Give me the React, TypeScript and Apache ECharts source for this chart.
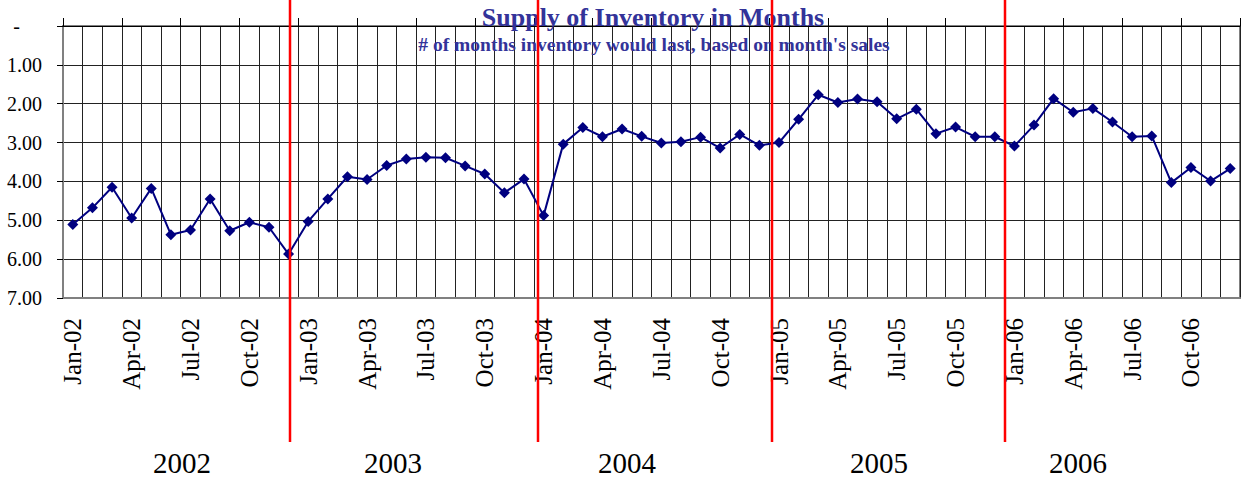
import React, { useEffect, useRef } from "react";
import * as echarts from "echarts";

const monthNames = ["Jan", "Feb", "Mar", "Apr", "May", "Jun", "Jul", "Aug", "Sep", "Oct", "Nov", "Dec"];
const years = ["2002", "2003", "2004", "2005", "2006"];
const yearShort = ["02", "03", "04", "05", "06"];

const v2002 = [5.11, 4.68, 4.15, 4.94, 4.18, 5.37, 5.25, 4.45, 5.27, 5.05, 5.18, 5.87];
const v2003 = [5.03, 4.45, 3.88, 3.95, 3.59, 3.42, 3.38, 3.39, 3.6, 3.81, 4.29, 3.94];
const v2004 = [4.88, 3.04, 2.61, 2.85, 2.65, 2.84, 3.01, 2.98, 2.86, 3.14, 2.79, 3.07];
const v2005 = [3.0, 2.4, 1.77, 1.97, 1.88, 1.95, 2.39, 2.14, 2.77, 2.6, 2.85, 2.85];
const v2006 = [3.09, 2.55, 1.87, 2.22, 2.12, 2.47, 2.85, 2.83, 4.03, 3.64, 3.99, 3.67];

const yTicks = [0, 1, 2, 3, 4, 5, 6, 7];

// hand-drawn year dividers and year caption centres (pixels)
const dividerX = [290, 538, 772, 1005];
const yearLabelX = [182, 393, 627, 879, 1078];

const titleText = "Supply of Inventory in Months";
const subtitleText = "# of months inventory would last, based on month's sales";

const categories: string[] = [];
yearShort.forEach((y) => monthNames.forEach((m) => categories.push(`${m}-${y}`)));
const values = [...v2002, ...v2003, ...v2004, ...v2005, ...v2006];

const FONT = "'Liberation Serif', 'Times New Roman', serif";

export default function App() {
  const ref = useRef<HTMLDivElement>(null);
  useEffect(() => {
    if (!ref.current) return;
    const chart = echarts.init(ref.current, undefined, { renderer: "svg" });
    const graphics: any[] = [];
    dividerX.forEach((x) =>
      graphics.push({
        type: "line",
        shape: { x1: x, y1: 0, x2: x, y2: 442 },
        style: { stroke: "#ff0000", lineWidth: 2.5 },
        z: 100,
      })
    );
    years.forEach((y, i) =>
      graphics.push({
        type: "text",
        x: yearLabelX[i],
        y: 463,
        style: {
          text: y,
          font: `29px ${FONT}`,
          fill: "#000",
          textAlign: "center",
          textVerticalAlign: "middle",
        },
      })
    );
    graphics.push({
      type: "text",
      x: 653,
      y: 17,
      z: 50,
      style: {
        text: titleText,
        font: `bold 26px ${FONT}`,
        fill: "#333399",
        textAlign: "center",
        textVerticalAlign: "middle",
      },
    });
    graphics.push({
      type: "text",
      x: 654,
      y: 44,
      z: 50,
      style: {
        text: subtitleText,
        font: `bold 19.5px ${FONT}`,
        fill: "#333399",
        textAlign: "center",
        textVerticalAlign: "middle",
      },
    });

    chart.setOption({
      animation: false,
      backgroundColor: "#fff",
      grid: {
        left: 63,
        right: 1,
        top: 26,
        bottom: 183,
        show: true,
        borderColor: "#808080",
        borderWidth: 2,
      },
      xAxis: [
        {
          type: "category",
          position: "top",
          data: categories,
          boundaryGap: true,
          axisLine: { show: true, onZero: false, lineStyle: { color: "#000", width: 1 } },
          axisTick: { show: true, interval: 2, length: 8, lineStyle: { color: "#000" } },
          axisLabel: { show: false },
          splitLine: { show: false },
        },
        {
          type: "category",
          position: "bottom",
          data: categories,
          boundaryGap: true,
          axisLine: { show: true, onZero: false, lineStyle: { color: "#808080", width: 2 } },
          axisTick: { show: false },
          axisLabel: {
            interval: 2,
            rotate: 90,
            margin: 20,
            fontFamily: FONT,
            fontSize: 25,
            color: "#000",
          },
          splitLine: { show: true, interval: 0, lineStyle: { color: "#222", width: 1 } },
        },
      ],
      yAxis: {
        type: "value",
        inverse: true,
        min: yTicks[0],
        max: yTicks[yTicks.length - 1],
        interval: 1,
        axisLine: { show: true, lineStyle: { color: "#808080", width: 2 } },
        axisTick: { show: true, length: 6, lineStyle: { color: "#000" } },
        splitLine: { show: true, lineStyle: { color: "#222", width: 1 } },
        axisLabel: {
          margin: 21,
          fontFamily: FONT,
          fontSize: 20,
          color: "#000",
          formatter: (v: number) => (v === 0 ? "{dash|-}" : v.toFixed(2)),
          rich: {
            dash: { padding: [0, 22, 0, 0], fontFamily: FONT, fontSize: 20, color: "#000" },
          },
        },
      },
      series: [
        {
          type: "line",
          xAxisIndex: 1,
          data: values,
          symbol: "diamond",
          symbolSize: 11,
          itemStyle: { color: "#000080" },
          lineStyle: { color: "#000080", width: 2 },
          z: 10,
        },
      ],
      graphic: graphics,
    });
    return () => chart.dispose();
  }, []);
  return (
    <div
      ref={ref}
      style={{ position: "fixed", left: 0, top: 0, width: 1241, height: 481 }}
    />
  );
}
